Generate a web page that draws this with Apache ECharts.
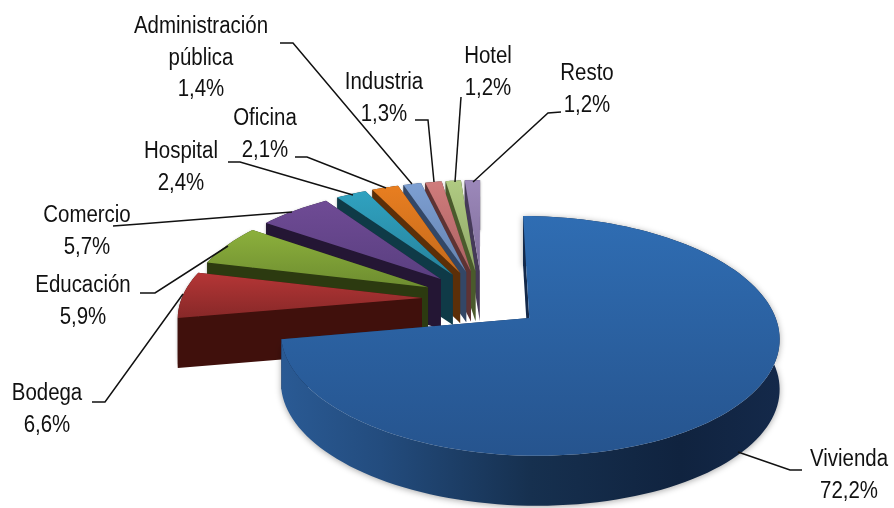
<!DOCTYPE html>
<html><head><meta charset="utf-8">
<style>html,body{margin:0;padding:0;background:#fff}#c{width:894px;height:508px}</style>
<script src="https://cdn.jsdelivr.net/npm/echarts@6/dist/echarts.min.js"></script>
</head><body><div id="c"></div>
<script>
const categories = ['Vivienda','Bodega','Educación','Comercio','Hospital','Oficina','Administración pública','Industria','Hotel','Resto'];
const shares = [72.2,6.6,5.9,5.7,2.4,2.1,1.4,1.3,1.2,1.2];
const labelLines = [['Vivienda'],['Bodega'],['Educación'],['Comercio'],['Hospital'],['Oficina'],['Administración','pública'],['Industria'],['Hotel'],['Resto']];
const topColors = [['#2f6db3','#26548e'],['#b53636','#872828'],['#8cb03c','#6e8d30'],['#6f4b95','#5a3f80'],['#30a2c0','#26839d'],['#e87e20','#c56a1c'],['#7d9fd2','#6683b0'],['#d07c7c','#ab6262'],['#b0ca82','#8fa868'],['#9c88ba','#7f6e9a']];
const wallColors = ['#14294a','#40100c','#2c3a10','#241634','#0f3a47','#5c2f08','#334766','#5e3333','#4a5a2c','#453a58'];
// label centre x, first line y, leader polyline
const labelLayout = [
 {x:849,y:460,line:[[802,470],[790,470],[738,452]]},
 {x:47,y:394,line:[[92,402],[105,402],[183,294]]},
 {x:83,y:286,line:[[140,293],[155,293],[228,246]]},
 {x:87,y:216,line:[[113,226],[140,224],[292,212]]},
 {x:181,y:152,line:[[228,162],[240,162],[353,195]]},
 {x:265,y:119,line:[[295,157],[307,157],[386,188]]},
 {x:201,y:27,line:[[280,43],[293,43],[412,184]]},
 {x:384,y:83,line:[[415,120],[428,120],[434,182]]},
 {x:488,y:57,line:[[461,97],[455,182]]},
 {x:587,y:74,line:[[561,112],[548,113],[473,182]]}
];
const view = {cx:482,cy:299,A:240.5,B:111.6,p:0.145,explodeU:0.25,explodeV:0.26,depth:50};
const total = shares.reduce((a,b)=>a+b,0);
const project = (u,v)=>{const w=1+view.p*v;return [view.cx+view.A*u/w, view.cy-view.B*v/w];};
const rad = d=>d*Math.PI/180;
const fmt = v=>v.toFixed(1).replace('.',',')+'%';
function renderItem(params, api){
  const i = params.dataIndex, value = api.value(0);
  let before = 0; for(let k=0;k<i;k++) before += shares[k];
  const t0 = before/total*360, t1 = (before+value)/total*360, mid=(t0+t1)/2;
  const au = view.explodeU*Math.sin(rad(mid)), av = view.explodeV*Math.cos(rad(mid));
  const apex = project(au,av);
  const arc = [];
  const n = Math.max(6,Math.ceil((t1-t0)/2));
  for(let k=0;k<=n;k++){const t=rad(t0+(t1-t0)*k/n);arc.push(project(au+Math.sin(t),av+Math.cos(t)));}
  const down = pts=>pts.map(p=>[p[0],p[1]+view.depth]);
  // paint from the back (Resto) to the front (Vivienda)
  const base = i===0 ? 200 : (shares.length-i)*10;
  const wallFill = i===0
    ? new echarts.graphic.LinearGradient(0,0,1,0,[{offset:0,color:'#2a5a94'},{offset:.2,color:'#234c7e'},{offset:.5,color:'#16304f'},{offset:.8,color:'#10233f'},{offset:1,color:'#14294a'}])
    : wallColors[i];
  const wallStart = [apex,arc[0],down([arc[0]])[0],down([apex])[0]];
  const wallEnd = [apex,arc[n],down([arc[n]])[0],down([apex])[0]];
  const wallArc = arc.concat(down(arc).reverse());
  const top = [apex].concat(arc);
  const children = [
    {type:'polygon',z2:base,shape:{points:wallEnd},style:{fill:wallColors[i]}},
    {type:'polygon',z2:base+1,shape:{points:wallArc},style:{fill:wallFill,shadowBlur:i===0?6:3,shadowColor:'rgba(0,0,0,0.35)',shadowOffsetY:1}},
    {type:'polygon',z2:base+2,shape:{points:wallStart},style:{fill:wallColors[i]}},
    {type:'polygon',z2:base+3,shape:{points:top},style:{fill:new echarts.graphic.LinearGradient(0,0,0,1,[{offset:0,color:topColors[i][0]},{offset:1,color:topColors[i][1]}])}}
  ];
  const L = labelLayout[i];
  children.push({type:'polyline',z2:300,shape:{points:L.line},style:{fill:'none',stroke:'#111',lineWidth:1.5}});
  const lines = labelLines[i].concat([fmt(value)]);
  lines.forEach((s,k)=>children.push({type:'text',z2:301,x:L.x,y:L.y+k*31.5,scaleX:0.87,
    style:{text:s,fill:'#111',font:'23.5px "Liberation Sans", Arial, sans-serif',textAlign:'center',textVerticalAlign:'middle'}}));
  return {type:'group',children};
}
const chart = echarts.init(document.getElementById('c'),null,{renderer:'canvas'});
chart.setOption({
  animation:false,backgroundColor:'#fff',
  series:[{type:'custom',coordinateSystem:'none',renderItem,silent:true,clip:false,
    data:shares.map((v,i)=>({name:categories[i],value:[v]}))}]
});
</script></body></html>
